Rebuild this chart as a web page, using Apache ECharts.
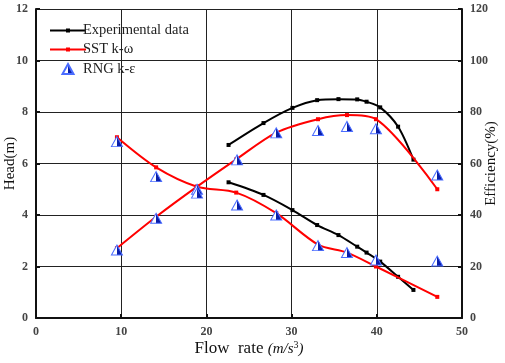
<!DOCTYPE html>
<html>
<head>
<meta charset="utf-8">
<script src="https://cdn.jsdelivr.net/npm/echarts@6/dist/echarts.min.js"></script>
<style>html,body{margin:0;padding:0;background:#fff}#c{width:505px;height:363px}</style>
</head>
<body>
<div id="c"></div>
<script>
// Experimental data
var expFlow = [22.6, 26.7, 30.1, 33.0, 35.5, 37.7, 38.8, 40.4, 42.5, 44.3];
var expHead = [5.27, 4.78, 4.19, 3.61, 3.22, 2.77, 2.54, 2.19, 1.60, 1.09];
var expEff  = [67.2, 75.7, 81.6, 84.6, 85.0, 84.9, 84.0, 81.8, 74.3, 61.5];
// SST k-omega
var sstFlow = [9.5, 14.1, 18.9, 23.5, 28.2, 33.1, 36.5, 39.9, 47.1];
var sstHead = [7.02, 5.85, 5.10, 4.87, 4.07, 2.85, 2.54, 2.00, 0.82];
var sstEff  = [27.1, 39.3, 51.0, 61.6, 72.0, 77.2, 78.8, 77.2, 50.0];
// RNG k-epsilon
var rngFlow = [9.5, 14.1, 18.9, 23.6, 28.2, 33.1, 36.5, 39.9, 47.1];
var rngHead = [6.85, 5.49, 5.00, 4.39, 4.00, 2.81, 2.54, 2.25, 2.21];
var rngEff  = [26.4, 38.7, 48.5, 61.4, 71.9, 72.8, 74.4, 73.5, 55.5];
// Axis ticks
var xTicks = [0, 10, 20, 30, 40, 50];
var headTicks = [0, 2, 4, 6, 8, 10, 12];
var effTicks = [0, 20, 40, 60, 80, 100, 120];

function pairs(xs, ys) { return xs.map(function (x, i) { return [x, ys[i]]; }); }

var FONT = 'Liberation Serif';
var tri = 'path://M5 0 L10 10 L0 10 Z';
var halfFill = {
  type: 'linear', x: 0, y: 0, x2: 1, y2: 0,
  colorStops: [
    { offset: 0, color: '#ffffff' }, { offset: 0.5, color: '#ffffff' },
    { offset: 0.5, color: '#0a1ea8' }, { offset: 1, color: '#0a1ea8' }
  ]
};
// legend icons: line with small square marker, padded bounding box
var lineIcon = 'path://M0 0 Z M36 14 Z M0 6 H36 V8 H0 Z M16 5 H20 V9 H16 Z';
var triIcon = 'path://M0 0 Z M36 14 Z M18 2 L23.5 12 L12.5 12 Z';

function rngSeries(ys, axis) {
  return { name: 'RNG k-ε', type: 'scatter', yAxisIndex: axis, data: pairs(rngFlow, ys),
    symbol: tri, symbolSize: [11, 10],
    itemStyle: { color: halfFill, borderColor: '#4a6cff', borderWidth: 1, opacity: 1 }, z: 5 };
}

var axisLabel = { fontFamily: FONT, fontSize: 12, color: '#444', fontWeight: 'bold' };
var splitLine = { show: true, lineStyle: { color: '#222', width: 1 } };
var axisLine = { show: true, onZero: false, lineStyle: { color: '#111', width: 2 } };

var chart = echarts.init(document.getElementById('c'));
chart.setOption({
  animation: false,
  backgroundColor: '#fff',
  grid: { left: 36, right: 43, top: 9, bottom: 45, outerBoundsMode: 'none', containLabel: false },
  legend: {
    orient: 'vertical', left: 44, top: 18, itemGap: 4, itemWidth: 36, itemHeight: 14,
    textStyle: { fontFamily: FONT, fontSize: 14.5, color: '#222', padding: [0, 0, 0, -8] },
    data: [
      { name: 'Experimental data', icon: lineIcon, itemStyle: { color: '#000' } },
      { name: 'SST k-ω', icon: lineIcon, itemStyle: { color: '#ff0000' } },
      { name: 'RNG k-ε', icon: triIcon }
    ]
  },
  xAxis: {
    type: 'value', min: xTicks[0], max: xTicks[xTicks.length - 1], interval: 10,
    axisLine: axisLine, axisTick: { inside: true, length: 4, lineStyle: { color: '#111', width: 2 } },
    axisLabel: axisLabel, splitLine: splitLine,
    name: '{a|Flow  rate }{b|(m/s}{c|3}{b|)}', nameLocation: 'middle', nameGap: 22, nameMoveOverlap: false,
    nameTextStyle: {
      rich: {
        a: { fontFamily: FONT, fontSize: 17, color: '#111' },
        b: { fontFamily: FONT, fontSize: 15, fontStyle: 'italic', color: '#111' },
        c: { fontFamily: FONT, fontSize: 10, color: '#111', verticalAlign: 'top', padding: [0, 0, 8, 0] }
      }
    }
  },
  yAxis: [
    { type: 'value', min: headTicks[0], max: headTicks[headTicks.length - 1], interval: 2,
      axisLine: axisLine, axisTick: { inside: true, length: 4, lineStyle: { color: '#111', width: 2 } },
      axisLabel: axisLabel, splitLine: splitLine,
      name: 'Head(m)', nameLocation: 'middle', nameGap: 18, nameMoveOverlap: false,
      nameTextStyle: { fontFamily: FONT, fontSize: 15, color: '#111' } },
    { type: 'value', min: effTicks[0], max: effTicks[effTicks.length - 1], interval: 20, position: 'right',
      axisLine: axisLine, axisTick: { inside: true, length: 4, lineStyle: { color: '#111', width: 2 } },
      axisLabel: axisLabel, splitLine: { show: false },
      name: 'Efficiency(%)', nameLocation: 'middle', nameGap: 22, nameRotate: 90, nameMoveOverlap: false,
      nameTextStyle: { fontFamily: FONT, fontSize: 15, color: '#111' } }
  ],
  series: [
    { name: 'Experimental data', type: 'line', yAxisIndex: 0, data: pairs(expFlow, expHead), smooth: 0.3,
      symbol: 'rect', symbolSize: 4, lineStyle: { color: '#000', width: 2 }, itemStyle: { color: '#000' }, z: 3 },
    { name: 'Experimental data', type: 'line', yAxisIndex: 1, data: pairs(expFlow, expEff), smooth: 0.3,
      symbol: 'rect', symbolSize: 4, lineStyle: { color: '#000', width: 2 }, itemStyle: { color: '#000' }, z: 3 },
    { name: 'SST k-ω', type: 'line', yAxisIndex: 0, data: pairs(sstFlow, sstHead), smooth: 0.3,
      symbol: 'rect', symbolSize: 4, lineStyle: { color: '#ff0000', width: 2 }, itemStyle: { color: '#ff0000' }, z: 4 },
    { name: 'SST k-ω', type: 'line', yAxisIndex: 1, data: pairs(sstFlow, sstEff), smooth: 0.3,
      symbol: 'rect', symbolSize: 4, lineStyle: { color: '#ff0000', width: 2 }, itemStyle: { color: '#ff0000' }, z: 4 },
    rngSeries(rngHead, 0),
    rngSeries(rngEff, 1)
  ]
});
</script>
</body>
</html>
